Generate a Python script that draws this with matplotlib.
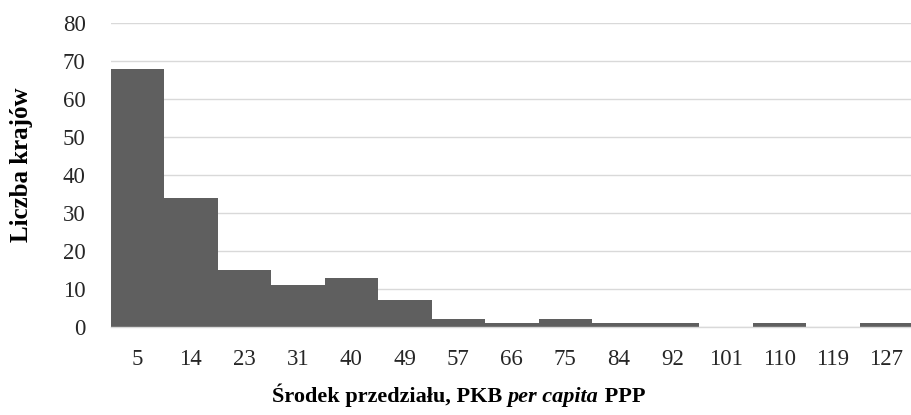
import matplotlib
matplotlib.use("Agg")
import matplotlib.pyplot as plt
import numpy as np

categories = ["5", "14", "23", "31", "40", "49", "57", "66", "75", "84", "92", "101", "110", "119", "127"]
counts = [68, 34, 15, 11, 13, 7, 2, 1, 2, 1, 1, 0, 1, 0, 1]
y_ticks = [0, 10, 20, 30, 40, 50, 60, 70, 80]

plt.rcParams['font.family'] = ['Liberation Serif', 'DejaVu Serif']

fig = plt.figure(figsize=(9.11, 4.15), dpi=100)
# axes spans slightly beyond the right edge, as in the reference crop
ax = fig.add_axes([110.5 / 911, 88 / 415, 802.5 / 911, 304 / 415])

x = np.arange(len(categories))
ax.bar(x, counts, width=1.0, color="#5f5f5f", edgecolor="none", zorder=3)

ax.set_xlim(-0.5, len(categories) - 0.5)
ax.set_ylim(0, 80)
ax.set_yticks(y_ticks)
ax.set_xticks(x)
ax.set_xticklabels(categories)
ax.tick_params(axis='both', length=0, labelsize=16.5)
ax.tick_params(axis='x', pad=16)
ax.tick_params(axis='y', pad=18)
for lbl in ax.get_xticklabels() + ax.get_yticklabels():
    lbl.set_color("#262626")

ax.grid(axis='y', color="#d9d9d9", linewidth=1.0, zorder=0)
for s in ["top", "right", "left"]:
    ax.spines[s].set_visible(False)
ax.spines["bottom"].set_color("#d9d9d9")
ax.spines["bottom"].set_linewidth(1.0)
ax.spines["bottom"].set_zorder(4)

fig.text(22 / 911, 1 - 165 / 415, "Liczba krajów", rotation=90, ha='center', va='center',
         fontsize=18, fontweight='bold', color="#000000")

# x label with mixed styling
parts = [("Środek przedziału, PKB ", 'normal'), ("per capita", 'italic'), (" PPP", 'normal')]
fig.canvas.draw()
renderer = fig.canvas.get_renderer()
texts = []
widths = []
for s, st in parts:
    t = fig.text(0, 13 / 415, s, fontsize=16, fontweight='bold', fontstyle=st, va='baseline', ha='left')
    bb = t.get_window_extent(renderer=renderer)
    texts.append(t)
    widths.append(bb.width)
total = sum(widths)
center_px = 458.5
start = center_px - total / 2
for t, w in zip(texts, widths):
    t.set_x(start / fig.bbox.width)
    start += w

fig.savefig("out.png", dpi=100)
